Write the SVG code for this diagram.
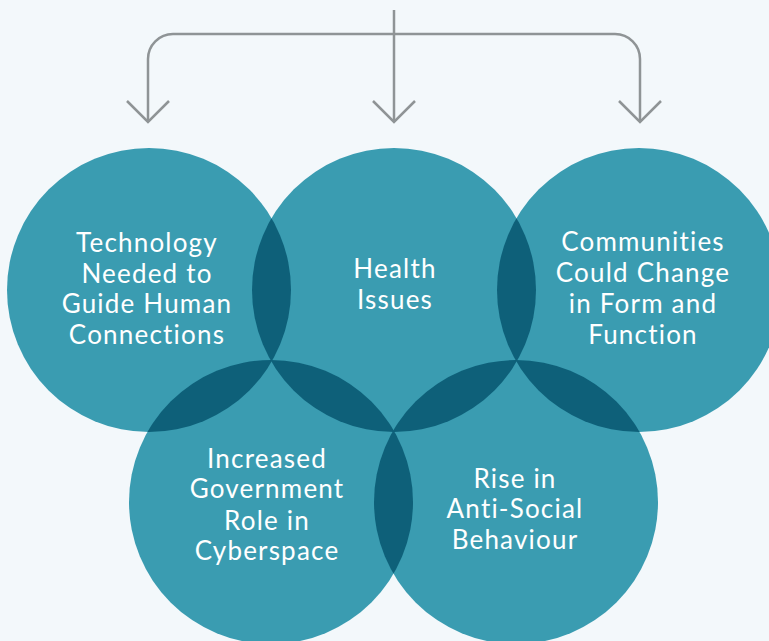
<svg xmlns="http://www.w3.org/2000/svg" width="769" height="641" viewBox="0 0 769 641">
<style>
.c{fill:#3a9cb1}
.lens{fill:#0e6079}
.t{font-family:Lato,"Open Sans",sans-serif;font-size:26px;letter-spacing:1.2px;fill:#ffffff;text-anchor:middle}
.conn{fill:none;stroke:#8f9496;stroke-width:2.5;stroke-linecap:butt;stroke-linejoin:miter}
</style>
<defs>
<clipPath id="kTL"><circle cx="149" cy="290" r="142"/></clipPath>
<clipPath id="kTM"><circle cx="394" cy="290" r="142"/></clipPath>
<clipPath id="kTR"><circle cx="639" cy="290" r="142"/></clipPath>
<clipPath id="kBL"><circle cx="271" cy="502" r="142"/></clipPath>
</defs>
<rect width="769" height="641" fill="#f3f8fb"/>
<g id="connectors">
<path class="conn" d="M394 10 V122"/>
<path class="conn" d="M148 122 V59 A25 25 0 0 1 173 34 H615 A25 25 0 0 1 640 59 V122"/>
<path class="conn" d="M127 101 L148 122 L169 101"/>
<path class="conn" d="M373 101 L394 122 L415 101"/>
<path class="conn" d="M619 101 L640 122 L661 101"/>
</g>
<g id="circles">
<circle class="c" cx="149" cy="290" r="142"/>
<circle class="c" cx="394" cy="290" r="142"/>
<circle class="c" cx="639" cy="290" r="142"/>
<circle class="c" cx="271" cy="502" r="142"/>
<circle class="c" cx="516" cy="502" r="142"/>
</g>
<g id="overlaps">
<circle class="lens" cx="394" cy="290" r="142" clip-path="url(#kTL)"/>
<circle class="lens" cx="271" cy="502" r="142" clip-path="url(#kTL)"/>
<circle class="lens" cx="639" cy="290" r="142" clip-path="url(#kTM)"/>
<circle class="lens" cx="271" cy="502" r="142" clip-path="url(#kTM)"/>
<circle class="lens" cx="516" cy="502" r="142" clip-path="url(#kTM)"/>
<circle class="lens" cx="516" cy="502" r="142" clip-path="url(#kTR)"/>
<circle class="lens" cx="516" cy="502" r="142" clip-path="url(#kBL)"/>
</g>
<g id="node-tech">
<text class="t" x="147" y="252">Technology</text>
<text class="t" x="147" y="283">Needed to</text>
<text class="t" x="147" y="313">Guide Human</text>
<text class="t" x="147" y="344">Connections</text>
</g>
<g id="node-health">
<text class="t" x="395" y="278">Health</text>
<text class="t" x="395" y="309">Issues</text>
</g>
<g id="node-communities">
<text class="t" x="643" y="251">Communities</text>
<text class="t" x="643" y="282">Could Change</text>
<text class="t" x="643" y="313">in Form and</text>
<text class="t" x="643" y="344">Function</text>
</g>
<g id="node-government">
<text class="t" x="267" y="468">Increased</text>
<text class="t" x="267" y="498">Government</text>
<text class="t" x="267" y="530">Role in</text>
<text class="t" x="267" y="560">Cyberspace</text>
</g>
<g id="node-antisocial">
<text class="t" x="515" y="488">Rise in</text>
<text class="t" x="515" y="518">Anti-Social</text>
<text class="t" x="515" y="549">Behaviour</text>
</g>
</svg>
